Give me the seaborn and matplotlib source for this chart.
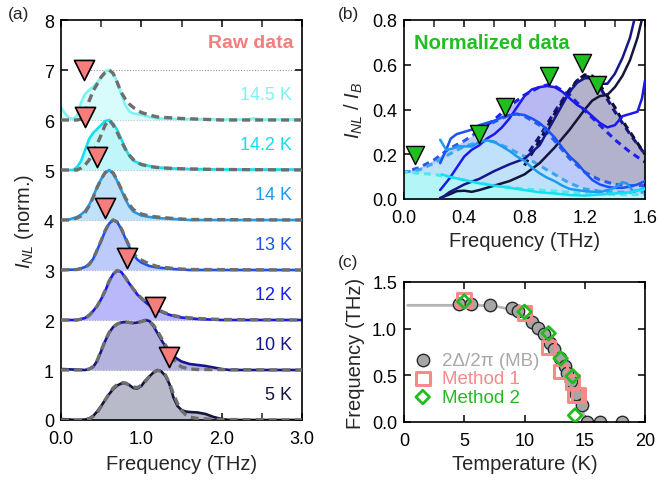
import numpy as np
import matplotlib
matplotlib.use("Agg")
import matplotlib.pyplot as plt
import seaborn as sns
from matplotlib.ticker import MultipleLocator, FormatStrFormatter

# ---------------- data: panel (a) raw spectra (normalized, no offset) ----------------
temps_a = ["5 K", "10 K", "12 K", "13 K", "14 K", "14.2 K", "14.5 K"]

a5_f = [0.0, 0.2, 0.3, 0.35, 0.4, 0.45, 0.5, 0.55, 0.6, 0.65, 0.7, 0.75, 0.8, 0.85, 0.9, 0.95, 1.0, 1.05, 1.1,
        1.15, 1.2, 1.25, 1.3, 1.35, 1.4, 1.45, 1.5, 1.55, 1.6, 1.7, 1.8, 1.9, 2.0, 2.1, 3.0]
a5_v = [0.02, 0.0, 0.01, 0.03, 0.08, 0.17, 0.28, 0.40, 0.52, 0.62, 0.69, 0.73, 0.74, 0.70, 0.64, 0.63, 0.68,
        0.79, 0.87, 0.95, 1.0, 0.97, 0.88, 0.72, 0.45, 0.28, 0.20, 0.17, 0.16, 0.15, 0.12, 0.06, 0.02, 0.0, 0.0]
a5_fit_f = [0.0, 0.3, 0.35, 0.4, 0.45, 0.5, 0.55, 0.6, 0.65, 0.7, 0.75, 0.8, 0.85, 0.9, 0.95, 1.0, 1.05, 1.1,
            1.15, 1.2, 1.25, 1.3, 1.35, 1.4, 1.45, 1.5, 1.55, 1.6, 1.7, 1.8, 2.0, 3.0]
a5_fit_v = [0.0, 0.0, 0.02, 0.07, 0.15, 0.27, 0.40, 0.53, 0.64, 0.71, 0.75, 0.74, 0.70, 0.66, 0.65, 0.69, 0.77,
            0.87, 0.95, 0.99, 0.98, 0.90, 0.74, 0.52, 0.33, 0.19, 0.11, 0.06, 0.03, 0.02, 0.01, 0.0]

a10_f = [0.0, 0.3, 0.35, 0.4, 0.45, 0.5, 0.55, 0.6, 0.65, 0.7, 0.75, 0.8, 0.85, 0.9, 0.95, 1.0, 1.05, 1.1, 1.15,
         1.2, 1.25, 1.3, 1.35, 1.4, 1.45, 1.5, 1.6, 1.7, 1.8, 1.9, 2.0, 2.1, 3.0]
a10_v = [0.02, 0.0, 0.02, 0.06, 0.18, 0.38, 0.58, 0.75, 0.86, 0.92, 0.95, 0.96, 0.95, 0.94, 0.95, 0.97, 1.0,
         0.98, 0.88, 0.74, 0.60, 0.47, 0.36, 0.28, 0.22, 0.17, 0.12, 0.10, 0.08, 0.05, 0.02, 0.0, 0.0]
a10_fit_f = [0.0, 0.3, 0.35, 0.4, 0.45, 0.5, 0.55, 0.6, 0.65, 0.7, 0.75, 0.8, 0.85, 0.9, 0.95, 1.0, 1.05, 1.1,
             1.15, 1.2, 1.25, 1.3, 1.35, 1.4, 1.45, 1.5, 1.6, 1.7, 3.0]
a10_fit_v = [0.0, 0.0, 0.02, 0.07, 0.19, 0.39, 0.59, 0.75, 0.86, 0.92, 0.95, 0.96, 0.95, 0.94, 0.95, 0.97, 0.99,
             0.98, 0.90, 0.78, 0.64, 0.50, 0.36, 0.22, 0.12, 0.06, 0.02, 0.01, 0.0]

a12_f = [0.0, 0.2, 0.3, 0.35, 0.4, 0.45, 0.5, 0.55, 0.6, 0.65, 0.7, 0.75, 0.8, 0.85, 0.9, 0.95, 1.0, 1.1, 1.2,
         1.3, 1.4, 1.5, 1.7, 2.0, 3.0]
a12_v = [0.0, 0.0, 0.04, 0.10, 0.18, 0.28, 0.42, 0.58, 0.78, 0.92, 0.99, 0.96, 0.85, 0.73, 0.62, 0.51, 0.43,
         0.29, 0.20, 0.13, 0.08, 0.05, 0.02, 0.0, 0.0]
a12_fit_f = a12_f
a12_fit_v = [0.0, 0.0, 0.03, 0.09, 0.17, 0.28, 0.42, 0.59, 0.78, 0.92, 0.99, 0.96, 0.85, 0.73, 0.62, 0.52, 0.44,
             0.30, 0.21, 0.14, 0.09, 0.06, 0.03, 0.01, 0.0]

a13_f = [0.0, 0.2, 0.3, 0.35, 0.4, 0.45, 0.5, 0.55, 0.6, 0.65, 0.7, 0.75, 0.8, 0.85, 0.9, 0.95, 1.0, 1.1, 1.2,
         1.4, 1.6, 3.0]
a13_v = [0.0, 0.01, 0.06, 0.12, 0.22, 0.40, 0.58, 0.78, 0.93, 1.0, 0.96, 0.82, 0.64, 0.46, 0.31, 0.21, 0.15,
         0.08, 0.05, 0.02, 0.0, 0.0]
a13_fit_v = [0.0, 0.01, 0.05, 0.11, 0.22, 0.40, 0.59, 0.79, 0.94, 1.0, 0.96, 0.83, 0.65, 0.48, 0.33, 0.25, 0.20,
             0.12, 0.07, 0.03, 0.01, 0.0]

a14_f = [0.0, 0.1, 0.2, 0.25, 0.3, 0.35, 0.4, 0.45, 0.5, 0.55, 0.6, 0.65, 0.7, 0.75, 0.8, 0.85, 0.9, 1.0, 1.1,
         1.2, 1.4, 1.6, 3.0]
a14_v = [0.0, 0.01, 0.06, 0.11, 0.18, 0.30, 0.47, 0.66, 0.82, 0.94, 1.0, 0.93, 0.78, 0.60, 0.42, 0.27, 0.17,
         0.09, 0.06, 0.04, 0.02, 0.0, 0.0]
a14_fit_v = [0.0, 0.0, 0.04, 0.08, 0.15, 0.28, 0.45, 0.65, 0.82, 0.95, 1.0, 0.94, 0.79, 0.62, 0.45, 0.31, 0.21,
             0.12, 0.08, 0.06, 0.03, 0.01, 0.0]

a142_f = [0.0, 0.15, 0.2, 0.25, 0.3, 0.35, 0.4, 0.45, 0.5, 0.55, 0.6, 0.65, 0.7, 0.75, 0.8, 0.85, 0.9, 0.95,
          1.0, 1.1, 1.2, 1.4, 1.6, 2.0, 3.0]
a142_v = [0.0, 0.0, 0.06, 0.18, 0.40, 0.62, 0.74, 0.82, 0.90, 0.98, 1.0, 0.93, 0.80, 0.62, 0.44, 0.28, 0.19,
          0.15, 0.12, 0.08, 0.05, 0.03, 0.02, 0.01, 0.01]
a142_fit_v = [0.0, 0.0, 0.0, 0.04, 0.10, 0.20, 0.35, 0.52, 0.70, 0.90, 1.0, 0.90, 0.75, 0.58, 0.42, 0.30, 0.21,
              0.15, 0.11, 0.07, 0.05, 0.03, 0.02, 0.01, 0.0]

a145_f = [0.0, 0.05, 0.1, 0.15, 0.2, 0.25, 0.3, 0.35, 0.4, 0.45, 0.5, 0.55, 0.6, 0.65, 0.7, 0.75, 0.8, 0.85,
          0.9, 1.0, 1.1, 1.2, 1.5, 2.0, 2.3, 2.4, 2.5, 3.0]
a145_v = [0.25, 0.13, 0.04, 0.02, 0.08, 0.35, 0.52, 0.60, 0.66, 0.75, 0.85, 0.97, 1.0, 0.93, 0.76, 0.52, 0.30,
          0.17, 0.13, 0.11, 0.06, 0.03, 0.02, 0.01, 0.01, 0.03, 0.01, 0.01]
a145_fit_v = [0.0, 0.0, 0.0, 0.0, 0.0, 0.02, 0.15, 0.38, 0.58, 0.72, 0.86, 0.95, 1.0, 0.93, 0.75, 0.55, 0.42,
              0.32, 0.25, 0.15, 0.10, 0.06, 0.03, 0.0, 0.0, 0.0, 0.0, 0.0]

# dotted reference levels in panel (a) and where each starts
ref_levels = [1, 2, 3, 4, 5, 6, 7]
ref_start = [0, 0, 0, 0, 0, 0, 0.3]

# method-1 markers (panel a): frequency and vertical position
tri_a_f = [1.34, 1.17, 0.82, 0.55, 0.45, 0.30, 0.29]
tri_a_y = [1.27, 2.27, 3.25, 4.25, 5.27, 6.07, 7.0]

# ---------------- data: panel (b) normalized spectra ----------------
temps_b = ["5 K", "10 K", "12 K", "13 K", "14 K", "14.2 K"]

b5_f = [0.24, 0.3, 0.35, 0.4, 0.45, 0.5, 0.6, 0.7, 0.8, 0.9, 1.0, 1.1, 1.2, 1.25, 1.3, 1.35, 1.4, 1.45, 1.5,
        1.55, 1.6]
b5_v = [0.005, 0.02, 0.035, 0.037, 0.032, 0.04, 0.06, 0.08, 0.11, 0.16, 0.23, 0.31, 0.40, 0.44, 0.46, 0.465,
        0.50, 0.55, 0.62, 0.72, 0.86]
b10_f = [0.24, 0.3, 0.4, 0.5, 0.6, 0.7, 0.8, 0.9, 1.0, 1.05, 1.1, 1.15, 1.2, 1.25, 1.3, 1.35, 1.4, 1.45, 1.5,
         1.55]
b10_v = [0.0, 0.03, 0.065, 0.09, 0.125, 0.155, 0.18, 0.24, 0.36, 0.42, 0.48, 0.52, 0.54, 0.54, 0.515, 0.515,
         0.56, 0.63, 0.72, 0.86]
b12_f = [0.24, 0.3, 0.35, 0.4, 0.45, 0.5, 0.55, 0.6, 0.65, 0.7, 0.75, 0.8, 0.85, 0.9, 0.95, 1.0, 1.05, 1.1,
         1.15, 1.2, 1.25, 1.3, 1.35, 1.4, 1.45, 1.5, 1.55, 1.58, 1.6]
b12_v = [0.04, 0.09, 0.14, 0.19, 0.22, 0.24, 0.27, 0.29, 0.32, 0.36, 0.41, 0.46, 0.49, 0.50, 0.505, 0.50, 0.48,
         0.45, 0.42, 0.40, 0.37, 0.34, 0.32, 0.33, 0.37, 0.38, 0.39, 0.45, 0.53]
b13_f = [0.24, 0.28, 0.31, 0.35, 0.4, 0.45, 0.5, 0.55, 0.6, 0.65, 0.7, 0.75, 0.8, 0.85, 0.9, 0.95, 1.0, 1.05,
         1.1, 1.15, 1.2, 1.25, 1.3, 1.35, 1.4, 1.45, 1.5, 1.55, 1.6]
b13_v = [0.16, 0.22, 0.27, 0.29, 0.30, 0.31, 0.33, 0.34, 0.35, 0.365, 0.375, 0.38, 0.375, 0.36, 0.34, 0.31,
         0.275, 0.23, 0.19, 0.16, 0.12, 0.085, 0.065, 0.055, 0.05, 0.05, 0.055, 0.065, 0.08]
b14_f = [0.24, 0.28, 0.32, 0.36, 0.4, 0.45, 0.5, 0.55, 0.6, 0.65, 0.7, 0.75, 0.8, 0.85, 0.9, 0.95, 1.0, 1.05,
         1.1, 1.2, 1.3, 1.4, 1.45, 1.48, 1.52, 1.56, 1.6]
b14_v = [0.265, 0.22, 0.225, 0.235, 0.235, 0.235, 0.255, 0.262, 0.255, 0.235, 0.215, 0.19, 0.17, 0.14, 0.115,
         0.095, 0.08, 0.06, 0.045, 0.035, 0.03, 0.05, 0.075, 0.07, 0.035, 0.04, 0.05]
b142_f = [0.25, 0.3, 0.4, 0.5, 0.6, 0.7, 0.8, 0.9, 1.0, 1.1, 1.2, 1.3, 1.4, 1.5, 1.6]
b142_v = [0.11, 0.10, 0.085, 0.07, 0.06, 0.05, 0.04, 0.03, 0.025, 0.018, 0.015, 0.02, 0.025, 0.03, 0.045]

# fits (dashed) in panel (b)
b5_fit_f = [0.8, 0.9, 1.0, 1.1, 1.15, 1.2, 1.25, 1.3, 1.35, 1.4, 1.45, 1.5, 1.55, 1.6]
b5_fit_v = [0.15, 0.26, 0.38, 0.48, 0.53, 0.555, 0.55, 0.51, 0.46, 0.41, 0.35, 0.30, 0.25, 0.20]
b10_fit_f = [0.8, 0.9, 1.0, 1.1, 1.15, 1.2, 1.25, 1.3, 1.4, 1.5, 1.6]
b10_fit_v = [0.18, 0.28, 0.39, 0.49, 0.53, 0.55, 0.54, 0.50, 0.39, 0.29, 0.20]
b12_fit_f = [0.55, 0.6, 0.7, 0.8, 0.9, 0.95, 1.0, 1.1, 1.2, 1.3, 1.4, 1.5, 1.6]
b12_fit_v = [0.33, 0.355, 0.415, 0.465, 0.50, 0.51, 0.505, 0.465, 0.395, 0.33, 0.265, 0.21, 0.165]
b13_fit_f = [0.0, 0.1, 0.2, 0.3, 0.4, 0.5, 0.6, 0.7, 0.75, 0.8, 0.9, 1.0, 1.1, 1.2, 1.3, 1.4, 1.5, 1.6]
b13_fit_v = [0.12, 0.14, 0.175, 0.225, 0.26, 0.305, 0.345, 0.375, 0.38, 0.37, 0.33, 0.26, 0.18, 0.12, 0.085,
             0.065, 0.06, 0.06]
b14_fit_f = [0.0, 0.1, 0.2, 0.3, 0.4, 0.5, 0.55, 0.6, 0.7, 0.8, 0.9, 1.0, 1.1, 1.2, 1.3, 1.4, 1.5, 1.6]
b14_fit_v = [0.12, 0.13, 0.16, 0.20, 0.235, 0.255, 0.26, 0.255, 0.225, 0.19, 0.15, 0.11, 0.07, 0.045, 0.035,
             0.03, 0.03, 0.03]
b142_fit_f = [0.0, 0.2, 0.4, 0.6, 0.8, 1.0, 1.2, 1.4, 1.6]
b142_fit_v = [0.12, 0.11, 0.085, 0.06, 0.045, 0.035, 0.025, 0.02, 0.02]

# method-2 markers (panel b), order 14.2, 14, 13, 12, 10, 5 K
tri_b_f = [0.07, 0.50, 0.67, 0.96, 1.18, 1.28]
tri_b_y = [0.196, 0.29, 0.41, 0.55, 0.61, 0.51]

# ---------------- data: panel (c) ----------------
mb_T = [4.6, 5.6, 7.1, 9.0, 9.5, 10.6, 11.1, 11.6, 12.1, 12.45, 12.95, 13.35, 13.55, 13.9, 14.3, 14.75,
        15.15, 16.25, 18.05]
mb_f = [1.26, 1.26, 1.25, 1.22, 1.19, 1.07, 1.01, 0.94, 0.85, 0.78, 0.69, 0.60, 0.52, 0.44, 0.30, 0.18,
        0.0, 0.0, 0.0]
m1_T = [5, 10, 12, 13, 14, 14.2, 14.5]
m1_f = [1.31, 1.17, 0.80, 0.54, 0.43, 0.29, 0.29]
m2_T = [5, 10, 12, 13, 14, 14.2]
m2_f = [1.29, 1.18, 0.95, 0.68, 0.49, 0.07]
bcs_T = [0.3, 2, 4, 6, 7, 8, 9, 10, 11, 12, 12.5, 13, 13.5, 14, 14.5, 14.8, 15.0]
bcs_f = [1.25, 1.25, 1.25, 1.25, 1.245, 1.23, 1.2, 1.14, 1.05, 0.92, 0.84, 0.74, 0.63, 0.49, 0.32, 0.18, 0.0]

# ---------------- styles ----------------
line_col = {"5 K": "#14143c", "10 K": "#16168c", "12 K": "#1a1aee", "13 K": "#1a52f5",
            "14 K": "#1e9bef", "14.2 K": "#12dff0", "14.5 K": "#7ff2f2"}
fill_col = {"5 K": "#b9bac9", "10 K": "#b3b3dd", "12 K": "#b8b8fa", "13 K": "#bccbfa",
            "14 K": "#bfe2fa", "14.2 K": "#bff6f9", "14.5 K": "#d8fbfb"}
fill_col_b = {"5 K": "#b2b2cc", "10 K": "#adadd8", "12 K": "#b8b8f2", "13 K": "#bccbfa",
              "14 K": "#bfe2fa", "14.2 K": "#b4f6f8"}
fit_col_b = {"5 K": "#101030", "10 K": "#16168c", "12 K": "#2020ee", "13 K": "#2a5af5",
             "14 K": "#3aa6f0", "14.2 K": "#50e8f0"}
salmon = "#f77c7c"
green = "#1fbf1f"

sns.set_theme(style="ticks")
plt.rcParams["font.family"] = ["Liberation Sans", "DejaVu Sans"]
plt.rcParams["mathtext.fontset"] = "custom"
plt.rcParams["mathtext.it"] = "Liberation Sans:italic"
plt.rcParams["mathtext.rm"] = "Liberation Sans"
plt.rcParams["axes.linewidth"] = 1.2

fig = plt.figure(figsize=(6.58, 4.85), dpi=100)
axA = fig.add_axes([61 / 658, 1 - 421 / 485, 241 / 658, 400 / 485])
axB = fig.add_axes([404 / 658, 1 - 200 / 485, 241 / 658, 179 / 485])
axC = fig.add_axes([404 / 658, 1 - 423 / 485, 241 / 658, 140 / 485])

def style_ax(ax):
    ax.tick_params(direction="in", top=True, right=True, length=5, width=1.1, labelsize=13,
                   colors="black", which="major")
    ax.tick_params(direction="in", top=True, right=True, length=5, width=1.1, which="minor")
    ax.tick_params(axis="x", pad=7)
    ax.tick_params(axis="y", pad=5)
    for s in ax.spines.values():
        s.set_color("black")
        s.set_linewidth(1.2)

# ---------------- panel (a) ----------------
raw_a = {"5 K": (a5_f, a5_v, a5_fit_f, a5_fit_v), "10 K": (a10_f, a10_v, a10_fit_f, a10_fit_v),
         "12 K": (a12_f, a12_v, a12_fit_f, a12_fit_v), "13 K": (a13_f, a13_v, a13_f, a13_fit_v),
         "14 K": (a14_f, a14_v, a14_f, a14_fit_v), "14.2 K": (a142_f, a142_v, a142_f, a142_fit_v),
         "14.5 K": (a145_f, a145_v, a145_f, a145_fit_v)}
axA.hlines(ref_levels, ref_start, 3, colors="#9a9a9a", linestyles=(0, (1, 1.5)), linewidth=0.8, zorder=0.5)
for off, t in enumerate(temps_a):
    f, v, ff, fv = raw_a[t]
    f = np.array(f); v = np.array(v) + off
    axA.fill_between(f, off, v, color=fill_col[t], lw=0, zorder=1)
    sns.lineplot(x=f, y=v, ax=axA, color=line_col[t], lw=1.9, sort=False, estimator=None, zorder=2)
    sns.lineplot(x=np.array(ff), y=np.array(fv) + off, ax=axA, color="#6e6e6e", lw=2.4,
                 linestyle=(0, (2.4, 1.5)), sort=False, estimator=None, zorder=3)
    axA.text(2.88, off + 0.52, t, ha="right", va="center", color=line_col[t], fontsize=13)
sns.scatterplot(x=tri_a_f, y=tri_a_y, ax=axA, marker="v", s=210, color=salmon, edgecolor="black",
                linewidth=1.2, zorder=6)
axA.text(2.89, 7.56, "Raw data", ha="right", va="center", color=salmon, fontsize=14, fontweight="bold")
axA.set_xlim(0, 3.0)
axA.set_ylim(0, 8)
axA.xaxis.set_major_locator(MultipleLocator(1.0))
axA.xaxis.set_minor_locator(MultipleLocator(0.5))
axA.xaxis.set_major_formatter(FormatStrFormatter("%.1f"))
axA.yaxis.set_major_locator(MultipleLocator(1))
style_ax(axA)
axA.set_xlabel("Frequency (THz)", fontsize=14.5, labelpad=5)
axA.set_ylabel(r"$I_{NL}$ (norm.)", fontsize=14.5, labelpad=6)

# ---------------- panel (b) ----------------
raw_b = {"5 K": (b5_f, b5_v), "10 K": (b10_f, b10_v), "12 K": (b12_f, b12_v), "13 K": (b13_f, b13_v),
         "14 K": (b14_f, b14_v), "14.2 K": (b142_f, b142_v)}
fit_b = {"5 K": (b5_fit_f, b5_fit_v), "10 K": (b10_fit_f, b10_fit_v), "12 K": (b12_fit_f, b12_fit_v),
         "13 K": (b13_fit_f, b13_fit_v), "14 K": (b14_fit_f, b14_fit_v), "14.2 K": (b142_fit_f, b142_fit_v)}
fill_order = ["12 K", "10 K", "5 K", "13 K", "14 K", "14.2 K"]
for i, t in enumerate(fill_order):
    ff, fv = fit_b[t]
    axB.fill_between(ff, 0, fv, color=fill_col_b[t], lw=0, zorder=1 + 0.01 * i)
for i, t in enumerate(fill_order):
    ff, fv = fit_b[t]
    sns.lineplot(x=ff, y=fv, ax=axB, color=fit_col_b[t], lw=2.2, linestyle=(i % 2, (2.2, 1.6)),
                 sort=False, estimator=None, zorder=2)
for t in temps_b:
    f, v = raw_b[t]
    sns.lineplot(x=f, y=v, ax=axB, color=line_col[t], lw=1.8, sort=False, estimator=None, zorder=3)
sns.scatterplot(x=tri_b_f, y=tri_b_y, ax=axB, marker="v", s=170, color=green, edgecolor="black",
                linewidth=1.0, zorder=6)
axB.text(0.58, 0.70, "Normalized data", ha="center", va="center", color=green, fontsize=14.5,
         fontweight="bold")
axB.set_xlim(0, 1.6)
axB.set_ylim(0, 0.8)
axB.xaxis.set_major_locator(MultipleLocator(0.4))
axB.xaxis.set_minor_locator(MultipleLocator(0.2))
axB.xaxis.set_major_formatter(FormatStrFormatter("%.1f"))
axB.yaxis.set_major_locator(MultipleLocator(0.2))
axB.yaxis.set_major_formatter(FormatStrFormatter("%.1f"))
style_ax(axB)
axB.set_xlabel("Frequency (THz)", fontsize=14.5, labelpad=4)
axB.set_ylabel(r"$I_{NL}$ / $I_B$", fontsize=14.5, labelpad=5)

# ---------------- panel (c) ----------------
sns.lineplot(x=bcs_T, y=bcs_f, ax=axC, color="#b4b4b4", lw=2.0, sort=False, estimator=None, zorder=1)
sns.scatterplot(x=mb_T, y=mb_f, ax=axC, marker="o", s=80, color="#a6a6a6", edgecolor="#2a2a2a",
                linewidth=1.0, zorder=2, label="2Δ/2π (MB)")
sns.scatterplot(x=m1_T, y=m1_f, ax=axC, marker="s", s=95, facecolor="none", edgecolor="#f48a8a",
                linewidth=2.2, zorder=3, label="Method 1")
sns.scatterplot(x=m2_T, y=m2_f, ax=axC, marker="D", s=48, facecolor="none", edgecolor="#22bb22",
                linewidth=2.0, zorder=4, label="Method 2")
leg = axC.legend(loc="upper left", bbox_to_anchor=(0.0, 0.57), frameon=False, fontsize=13.5,
                 handlelength=1.0, handletextpad=0.5, labelspacing=0.08, borderpad=0.2,
                 borderaxespad=0.3)
for txt, c in zip(leg.get_texts(), ["#a8a8a8", "#f48a8a", "#22bb22"]):
    txt.set_color(c)
axC.set_xlim(0, 20)
axC.set_ylim(0, 1.5)
axC.xaxis.set_major_locator(MultipleLocator(5))
axC.yaxis.set_major_locator(MultipleLocator(0.5))
axC.yaxis.set_major_formatter(FormatStrFormatter("%.1f"))
style_ax(axC)
axC.set_xlabel("Temperature (K)", fontsize=14.5, labelpad=4)
axC.set_ylabel("Frequency (THz)", fontsize=14.5, labelpad=5)

fig.text(8 / 658, 1 - 14 / 485, "(a)", fontsize=12.5, va="center", ha="left")
fig.text(338 / 658, 1 - 14 / 485, "(b)", fontsize=12.5, va="center", ha="left")
fig.text(338 / 658, 1 - 263 / 485, "(c)", fontsize=12.5, va="center", ha="left")

fig.savefig("out.png", dpi=100)
